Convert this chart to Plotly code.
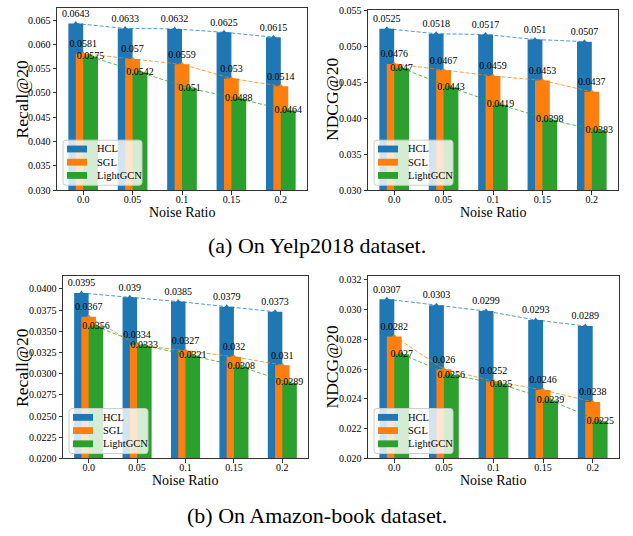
import plotly.graph_objects as go

W, H = 633, 536

noise_ratios = ["0.0", "0.05", "0.1", "0.15", "0.2"]
methods = ["HCL", "SGL", "LightGCN"]

yelp_recall_hcl = [0.0643, 0.0633, 0.0632, 0.0625, 0.0615]
yelp_recall_sgl = [0.0581, 0.057, 0.0559, 0.053, 0.0514]
yelp_recall_lightgcn = [0.0575, 0.0542, 0.051, 0.0488, 0.0464]

yelp_ndcg_hcl = [0.0525, 0.0518, 0.0517, 0.051, 0.0507]
yelp_ndcg_sgl = [0.0476, 0.0467, 0.0459, 0.0453, 0.0437]
yelp_ndcg_lightgcn = [0.047, 0.0443, 0.0419, 0.0398, 0.0383]

amazon_recall_hcl = [0.0395, 0.039, 0.0385, 0.0379, 0.0373]
amazon_recall_sgl = [0.0367, 0.0334, 0.0327, 0.032, 0.031]
amazon_recall_lightgcn = [0.0356, 0.0333, 0.0321, 0.0308, 0.0289]

amazon_ndcg_hcl = [0.0307, 0.0303, 0.0299, 0.0293, 0.0289]
amazon_ndcg_sgl = [0.0282, 0.026, 0.0252, 0.0246, 0.0238]
amazon_ndcg_lightgcn = [0.027, 0.0256, 0.025, 0.0239, 0.0225]

captions = ["(a) On Yelp2018 dataset.", "(b) On Amazon-book dataset."]

colors = ["#1f77b4", "#ff7f0e", "#2ca02c"]
line_colors = ["rgba(31,119,180,0.75)", "rgba(255,127,14,0.75)", "rgba(44,160,44,0.75)"]
label_positions = ["top center", "top center", "middle center"]
SERIF = "Liberation Serif, Times New Roman, serif"
BAR_W = 0.3
STEP = 0.15

# pixel boxes: (left, right, top, bottom)
panels = [
    dict(series=[yelp_recall_hcl, yelp_recall_sgl, yelp_recall_lightgcn],
         ytitle="Recall@20", ymin=0.030, dtick=0.005, fmt=".3f",
         box=(57, 307, 3, 189), ytx=22.5),
    dict(series=[yelp_ndcg_hcl, yelp_ndcg_sgl, yelp_ndcg_lightgcn],
         ytitle="NDCG@20", ymin=0.030, dtick=0.005, fmt=".3f",
         box=(368, 618, 5, 189), ytx=332),
    dict(series=[amazon_recall_hcl, amazon_recall_sgl, amazon_recall_lightgcn],
         ytitle="Recall@20", ymin=0.020, dtick=0.0025, fmt=".4f",
         box=(63, 308, 277, 463), ytx=22.5),
    dict(series=[amazon_ndcg_hcl, amazon_ndcg_sgl, amazon_ndcg_lightgcn],
         ytitle="NDCG@20", ymin=0.020, dtick=0.002, fmt=".3f",
         box=(368, 619, 277, 463), ytx=332),
]


def X(px):
    return px / W


def Y(py):
    return 1 - py / H


fig = go.Figure()
shapes = []
annotations = []
layout = {}

for p_i, p in enumerate(panels):
    sfx = "" if p_i == 0 else str(p_i + 1)
    L, R, T, B = p["box"]
    xa, ya = "x" + sfx, "y" + sfx
    idx = list(range(len(noise_ratios)))
    for j, vals in enumerate(p["series"]):
        xs = [k + j * STEP for k in idx]
        fig.add_trace(go.Bar(
            x=xs, y=vals, width=BAR_W, marker=dict(color=colors[j], line=dict(width=0)),
            name=methods[j], showlegend=False, xaxis=xa, yaxis=ya))
    for j, vals in enumerate(p["series"]):
        xs = [k + j * STEP for k in idx]
        fig.add_trace(go.Scatter(
            x=xs, y=vals, mode="lines+markers+text",
            line=dict(color=line_colors[j], width=1, dash="4px,2px"),
            marker=dict(symbol="triangle-up", size=5, color=colors[j]),
            text=[str(v) for v in vals], textposition=label_positions[j],
            textfont=dict(family=SERIF, size=10, color="black"),
            cliponaxis=False, showlegend=False, xaxis=xa, yaxis=ya))

    ymax = max(p["series"][0]) * 1.05
    nt = int(round((ymax - p["ymin"]) / p["dtick"] + 1e-9)) + 1
    tickvals = [p["ymin"] + k * p["dtick"] for k in range(nt) if p["ymin"] + k * p["dtick"] <= ymax + 1e-12]
    axis_common = dict(showline=True, linecolor="#333", linewidth=1, mirror=True,
                       ticks="outside", ticklen=3.5, tickwidth=1, tickcolor="#333",
                       showgrid=False, zeroline=False,
                       tickfont=dict(family=SERIF, size=10, color="black"))
    layout["xaxis" + sfx] = dict(
        domain=[X(L), X(R)], range=[-0.38, 4.68], anchor=ya, ticklabelstandoff=-4,
        tickvals=[k + STEP for k in idx], ticktext=noise_ratios, **axis_common)
    layout["yaxis" + sfx] = dict(
        domain=[Y(B), Y(T)], range=[p["ymin"], ymax], anchor=xa,
        tickvals=tickvals, tickformat=p["fmt"], **axis_common)

    # axis titles
    annotations.append(dict(text=p["ytitle"], x=X(p["ytx"]), y=Y((T + B) / 2), xref="paper", yref="paper",
                            textangle=-90, showarrow=False, xanchor="center", yanchor="middle",
                            font=dict(family=SERIF, size=17.5, color="black")))
    annotations.append(dict(text="Noise Ratio", x=X((L + R) / 2), y=Y(B + 22.5), xref="paper", yref="paper",
                            showarrow=False, xanchor="center", yanchor="middle",
                            font=dict(family=SERIF, size=14, color="black")))

    # legend (lower left, inside)
    bl, bb = L + 6, B - 5
    bw, bh = 79, 46
    bt = bb - bh
    r = 3
    x0, x1, y0, y1 = X(bl), X(bl + bw), Y(bt), Y(bb)
    rx, ry = r / W, r / H
    path = (f"M {x0+rx},{y0} L {x1-rx},{y0} Q {x1},{y0} {x1},{y0-ry} "
            f"L {x1},{y1+ry} Q {x1},{y1} {x1-rx},{y1} L {x0+rx},{y1} "
            f"Q {x0},{y1} {x0},{y1+ry} L {x0},{y0-ry} Q {x0},{y0} {x0+rx},{y0} Z")
    shapes.append(dict(type="path", path=path, xref="paper", yref="paper",
                       fillcolor="rgba(255,255,255,0.8)", line=dict(color="#cccccc", width=1),
                       layer="above"))
    for j, m in enumerate(methods):
        cy = bt + 9 + 13.5 * j
        shapes.append(dict(type="rect", xref="paper", yref="paper",
                           x0=X(bl + 4), x1=X(bl + 24), y0=Y(cy - 3.5), y1=Y(cy + 3.5),
                           fillcolor=colors[j], line=dict(width=0), layer="above"))
        annotations.append(dict(text=m, x=X(bl + 32), y=Y(cy), xref="paper", yref="paper",
                                showarrow=False, xanchor="left", yanchor="middle",
                                font=dict(family=SERIF, size=10.5, color="black")))

annotations.append(dict(text=captions[0], x=X(317), y=Y(246), xref="paper", yref="paper",
                        showarrow=False, xanchor="center", yanchor="middle",
                        font=dict(family=SERIF, size=22, color="black")))
annotations.append(dict(text=captions[1], x=X(317), y=Y(521), xref="paper", yref="paper",
                        showarrow=False, xanchor="center", yanchor="middle",
                        font=dict(family=SERIF, size=22, color="black")))

fig.update_layout(
    width=W, height=H, margin=dict(l=0, r=0, t=0, b=0),
    paper_bgcolor="white", plot_bgcolor="white",
    barmode="overlay", showlegend=False,
    shapes=shapes, annotations=annotations, **layout)

fig.write_html("out.html", config={"displayModeBar": False},
               post_script="document.body.style.margin='0px';")
